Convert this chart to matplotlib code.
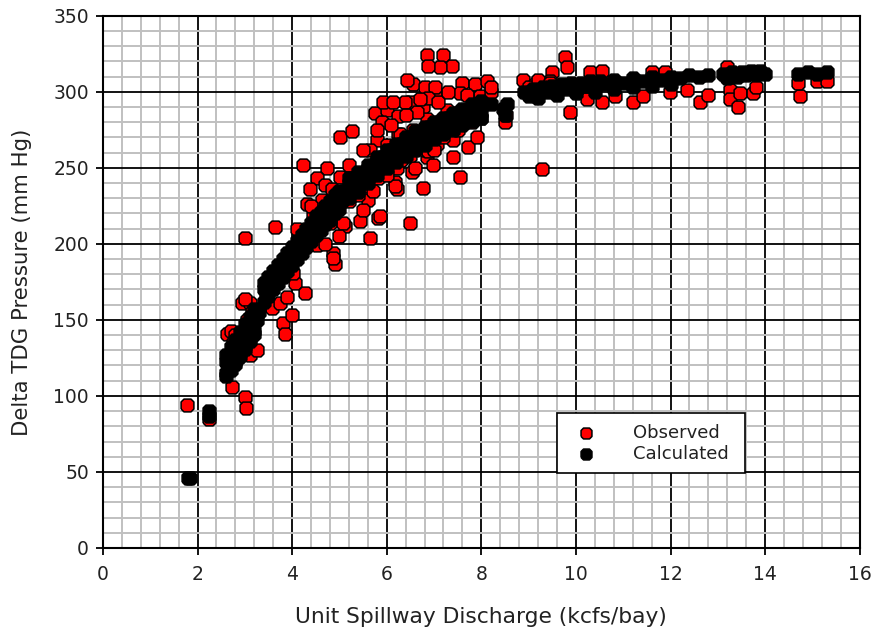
import matplotlib
matplotlib.use("Agg")
import matplotlib.pyplot as plt
from matplotlib.ticker import MultipleLocator

plt.rcParams.update({
    "font.family": ["DejaVu Sans"],
    "font.size": 12,
})

# observed delta TDG (red) -- (discharge kcfs/bay, pressure mm Hg)
obs_x = [1.78, 2.25,
         2.62, 2.70, 2.73, 2.80, 2.94, 3.00, 3.00, 3.02, 3.10, 3.10, 3.26, 2.75, 2.85, 3.05, 3.15, 3.00,
         3.57, 3.64, 3.74, 3.80, 3.85, 3.90, 4.00, 4.06, 4.27, 4.02,
         4.23, 4.74, 4.52, 5.01, 4.38, 4.69, 4.31, 4.63, 4.84, 4.44, 4.80, 5.12, 4.86, 4.90, 4.86, 4.52,
         5.07, 5.43, 5.64, 5.81, 5.60, 5.58, 5.81, 6.21, 6.17, 6.21, 6.53, 6.77, 6.49, 6.85, 6.98, 5.01,
         5.26, 5.75, 6.00, 5.90, 6.24, 6.24, 5.79, 6.00, 6.49, 6.77, 6.85, 6.55, 7.06, 6.81, 7.02, 7.27, 5.64,
         6.85, 7.19, 7.38, 7.12, 6.87, 6.55, 6.81, 7.02, 6.43, 6.38, 6.87, 7.08, 7.59, 7.86, 8.12, 7.97,
         7.55, 5.92, 6.13, 6.28, 6.64, 7.48, 7.40, 7.72, 7.91, 7.40, 7.55, 6.87, 6.17, 5.86,
         4.45, 4.60, 4.70, 5.00, 5.20, 5.40, 5.50, 5.70, 6.00, 6.30, 6.50, 6.60, 7.00, 7.20, 7.50, 7.80, 8.00,
         4.10, 4.40, 5.20, 5.50, 5.80, 6.10, 6.40, 6.70, 7.30, 7.70, 8.20,
         8.50, 8.52, 9.28, 8.88, 9.13, 9.49, 9.45, 9.00, 9.20, 8.20,
         9.77, 9.81, 9.45, 10.30, 10.55, 9.87, 10.23, 10.55, 10.82, 11.20, 11.42, 11.60, 11.88, 11.99,
         12.35, 12.62, 12.79, 13.20, 13.26, 13.26, 13.42, 13.47, 13.74, 13.80, 14.74, 14.70, 15.10, 15.30]
obs_y = [94, 85,
         141, 143, 106, 140, 161, 204, 99, 92, 161, 127, 130, 135, 125, 150, 155, 164,
         158, 211, 161, 148, 141, 165, 153, 174, 168, 181,
         252, 250, 243, 244, 236, 239, 226, 229, 236, 218, 214, 212, 194, 187, 191, 199,
         214, 215, 204, 217, 229, 238, 243, 250, 241, 236, 247, 237, 214, 257, 252, 270,
         274, 286, 288, 280, 284, 272, 268, 265, 293, 290, 282, 275, 266, 262, 297, 288, 262,
         324, 324, 317, 316, 317, 305, 303, 303, 308, 293, 296, 293, 306, 305, 307, 297,
         299, 293, 293, 272, 287, 283, 268, 264, 270, 257, 244, 261, 238, 218,
         205, 212, 200, 205, 228, 232, 222, 235, 245, 255, 258, 250, 262, 270, 275, 280, 283,
         210, 225, 252, 262, 275, 278, 285, 295, 300, 298, 300,
         280, 285, 249, 308, 305, 313, 307, 303, 308, 303,
         323, 316, 306, 313, 314, 287, 295, 293, 297, 293, 297, 313, 313, 300,
         301, 293, 298, 316, 301, 295, 290, 299, 299, 303, 297, 306, 307, 307]

# calculated delta TDG (black)
calc_x = [1.80, 1.85, 2.25, 2.25,
          2.60, 2.60, 2.65, 2.70, 2.70, 2.75, 2.80, 2.80, 2.85, 2.90, 2.90, 2.95, 3.00, 3.00, 3.05,
          3.10, 3.10, 3.15, 3.20, 3.20, 3.25, 3.30,
          2.6, 2.7, 2.8, 2.9, 3.0, 3.1, 3.2, 2.6, 2.7, 2.8, 2.9, 3.0, 3.1, 3.2,
          3.40, 3.45, 3.50, 3.55, 3.60, 3.65, 3.70, 3.75, 3.80, 3.85, 3.90, 3.95, 4.00, 4.05, 4.10,
          4.15, 4.20, 4.25, 4.30, 4.35, 4.40, 4.45, 4.50, 4.55, 4.60, 4.65, 4.70, 4.75, 4.80, 4.85,
          4.90, 4.95, 5.00, 5.05,
          3.4, 3.5, 3.6, 3.7, 3.8, 3.9, 4.0, 4.1, 4.2, 4.3, 4.4, 4.5, 4.6, 4.7, 4.8, 4.9, 5.0,
          3.4, 3.5, 3.6, 3.7, 3.8, 3.9, 4.0, 4.1, 4.2, 4.3, 4.4, 4.5, 4.6, 4.7, 4.8, 4.9, 5.0,
          5.1, 5.2, 5.2, 5.3, 5.4, 5.4, 5.5, 5.6, 5.6, 5.7, 5.8, 5.8, 5.9, 6.0, 6.0, 6.1, 6.2, 6.2,
          6.3, 6.4, 6.4, 6.5, 6.6, 6.6, 6.7, 6.8, 6.8, 6.9, 7.0, 7.0, 7.1, 7.2, 7.2, 7.3, 7.4, 7.4,
          7.5, 7.6, 7.6, 7.7, 7.8, 7.8, 7.9, 8.0, 8.0, 8.2,
          5.2, 5.4, 5.6, 5.8, 6.0, 6.2, 6.4, 6.6, 6.8, 7.0, 7.2, 7.4, 7.6, 7.8, 8.0,
          5.2, 5.4, 5.6, 5.8, 6.0, 6.2, 6.4, 6.6, 6.8, 7.0, 7.2, 7.4, 7.6, 7.8, 8.0,
          8.45, 8.55, 8.50,
          8.9, 9.0, 9.1, 9.2, 9.3, 9.4, 9.5, 9.6, 9.7, 9.8, 9.9, 10.0, 10.1, 10.2, 10.3, 10.4, 10.5,
          10.6, 10.8, 11.0, 11.2, 11.4, 11.6, 11.8, 12.0, 12.2, 12.4, 12.6, 12.8,
          9.2, 9.6, 10.0, 10.4, 10.8, 11.2, 11.6, 12.0,
          13.1, 13.2, 13.3, 13.4, 13.5, 13.6, 13.7, 13.8, 13.9, 14.0,
          14.7, 14.9, 15.1, 15.3]
calc_y = [46, 46, 87, 90,
          115, 122, 118, 120, 128, 125, 122, 132, 130, 128, 138, 135, 133, 142, 140,
          138, 148, 145, 143, 152, 150, 155,
          127, 132, 137, 142, 147, 152, 157, 113, 117, 121, 126, 131, 136, 141,
          170, 166, 174, 170, 178, 174, 182, 178, 186, 182, 190, 186, 195, 190, 199,
          195, 203, 199, 207, 203, 211, 207, 215, 211, 218, 214, 222, 218, 225, 221,
          229, 225, 232, 228,
          174, 178, 182, 186, 190, 194, 198, 202, 206, 210, 214, 218, 221, 225, 228, 232, 235,
          162, 166, 170, 174, 178, 182, 186, 190, 194, 198, 202, 206, 209, 213, 216, 220, 223,
          235, 233, 240, 238, 244, 237, 246, 250, 243, 252, 255, 248, 257, 260, 253, 262, 264, 257,
          266, 268, 261, 270, 272, 265, 273, 275, 268, 277, 279, 272, 280, 282, 275, 283, 285, 278,
          286, 287, 281, 288, 290, 284, 291, 292, 286, 292,
          243, 247, 252, 257, 262, 266, 270, 274, 277, 280, 283, 286, 289, 292, 294,
          230, 234, 240, 245, 250, 254, 258, 262, 265, 269, 272, 275, 278, 281, 283,
          289, 292, 285,
          300, 297, 302, 299, 303, 300, 304, 301, 305, 302, 306, 303, 306, 304, 307, 305, 307,
          305, 308, 306, 309, 307, 310, 308, 310, 309, 311, 310, 311,
          296, 298, 299, 300, 302, 303, 304, 305,
          312, 309, 313, 310, 313, 311, 314, 311, 314, 312,
          312, 313, 312, 313]

# square-ish octagon, like the original chart's point symbol
OCT = [(-1, -0.55), (-0.55, -1), (0.55, -1), (1, -0.55),
       (1, 0.55), (0.55, 1), (-0.55, 1), (-1, 0.55), (-1, -0.55)]

fig = plt.figure(figsize=(8.72, 6.32), dpi=100)
ax = fig.add_axes([0.118, 0.133, 0.868, 0.842])

ax.scatter(obs_x, obs_y, s=85, marker=OCT, c="#ff0000", edgecolors="black",
           linewidths=1.1, label="Observed", zorder=3)
ax.scatter(calc_x, calc_y, s=85, marker=OCT, c="black", edgecolors="black",
           linewidths=1.1, label="Calculated", zorder=4)

ax.set_xlim(0, 16)
ax.set_ylim(0, 350)
ax.xaxis.set_major_locator(MultipleLocator(2))
ax.xaxis.set_minor_locator(MultipleLocator(0.4))
ax.yaxis.set_major_locator(MultipleLocator(50))
ax.yaxis.set_minor_locator(MultipleLocator(10))
ax.grid(which="minor", color="#c0c0c0", lw=1.4, zorder=0)
ax.grid(which="major", color="black", lw=1.3, zorder=1)
ax.set_axisbelow(True)
ax.tick_params(which="minor", length=0)
ax.tick_params(which="major", direction="out", length=5, width=1.3, pad=5,
               labelsize=13.5, labelcolor="#222222")
ax.tick_params(axis="x", pad=7)
for s in ax.spines.values():
    s.set_linewidth(1.5)

ax.set_xlabel("Unit Spillway Discharge (kcfs/bay)", fontsize=15.7, color="#222222")
ax.set_ylabel("Delta TDG Pressure (mm Hg)", fontsize=15.3, color="#222222")
ax.xaxis.set_label_coords(0.5, -0.111)
ax.yaxis.set_label_coords(-0.094, 0.5)

leg = ax.legend(loc="lower left", bbox_to_anchor=(0.60, 0.14, 0.248, 0.125), mode="expand",
                fancybox=False, edgecolor="black", framealpha=1, fontsize=13,
                handletextpad=1.6, borderpad=0.6, labelspacing=0.15, borderaxespad=0,
                markerscale=0.85)
leg.get_frame().set_linewidth(1.2)
for t in leg.get_texts():
    t.set_color("#222222")

fig.savefig("out.png", dpi=100)
